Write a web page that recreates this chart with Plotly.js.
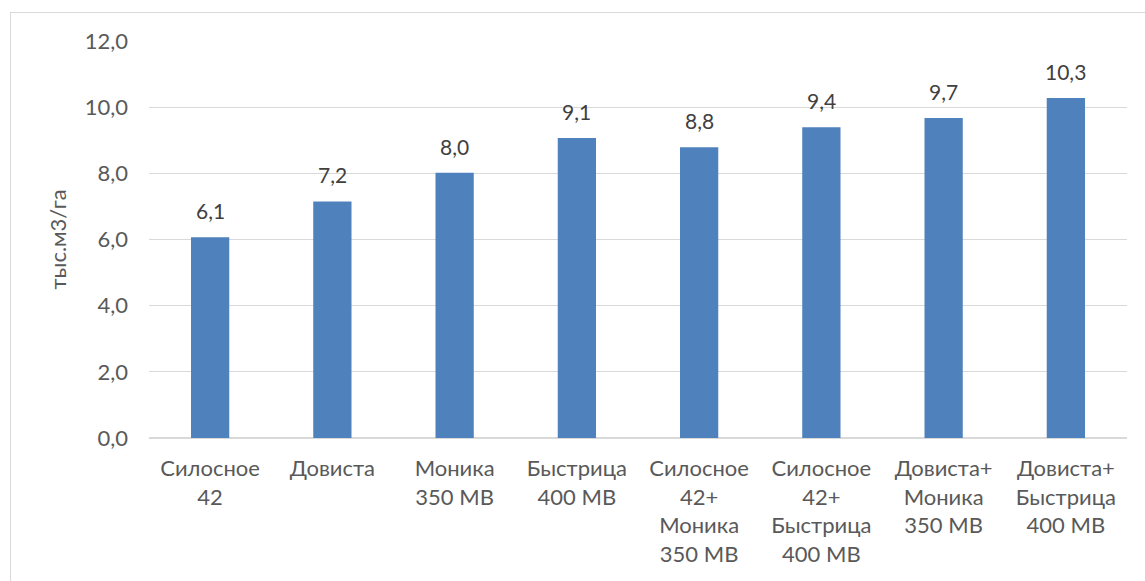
<!DOCTYPE html>
<html><head><meta charset="utf-8">
<script src="https://cdn.plot.ly/plotly-3.0.1.min.js"></script>
<style>
html,body{margin:0;padding:0;background:#fff;overflow:hidden}
#frame{position:absolute;left:10px;top:12px;width:1200px;height:700px;border:1.5px solid #D9D9D9;box-sizing:border-box}
#chart{position:absolute;left:0;top:0;width:1145px;height:581px}
</style></head>
<body>
<div id="frame"></div>
<div id="chart"></div>
<script>
var categories = ["Силосное<br>42", "Довиста", "Моника<br>350 МВ", "Быстрица<br>400 МВ",
  "Силосное<br>42+<br>Моника<br>350 МВ", "Силосное<br>42+<br>Быстрица<br>400 МВ",
  "Довиста+<br>Моника<br>350 МВ", "Довиста+<br>Быстрица<br>400 МВ"];
var values = [6.07, 7.15, 8.02, 9.07, 8.79, 9.39, 9.67, 10.28];
var yTicks = [0, 2, 4, 6, 8, 10, 12];
var yTickText = ["0,0", "2,0", "4,0", "6,0", "8,0", "10,0", "12,0"];
var yTitle = "тыс.м3/га";

var FONT = "Lato, 'Open Sans', sans-serif";
var annotations = values.map(function(v, i){
  return {x: categories[i], y: v, xref: 'x', yref: 'y', text: v.toFixed(1).replace('.', ','),
    showarrow: false, yanchor: 'bottom', yshift: 12, font: {family: FONT, size: 21, color: '#404040'}};
});

var data = [{type: 'bar', x: categories, y: values, marker: {color: '#4F81BD'}, hoverinfo: 'none'}];
var layout = {
  width: 1145, height: 581,
  margin: {l: 149, r: 18, t: 41, b: 143},
  paper_bgcolor: 'rgba(0,0,0,0)', plot_bgcolor: 'rgba(0,0,0,0)',
  bargap: 0.687,
  showlegend: false,
  font: {family: FONT, size: 22, color: '#595959'},
  xaxis: {showgrid: false, zeroline: false, showline: false, ticks: '', tickangle: 0,
    tickfont: {family: FONT, size: 22, color: '#595959'}, ticklabelstandoff: 15},
  yaxis: {range: [0, 12], tickvals: yTicks, ticktext: yTickText, showgrid: true, gridcolor: '#D9D9D9', gridwidth: 1.3,
    zeroline: true, zerolinecolor: '#D9D9D9', zerolinewidth: 1.3, showline: false, ticks: '',
    ticklabelstandoff: 20,
    tickfont: {family: FONT, size: 22, color: '#595959'},
    title: {text: yTitle, standoff: 12, font: {family: FONT, size: 22, color: '#595959'}}},
  annotations: annotations
};
Plotly.newPlot('chart', data, layout, {staticPlot: true, displayModeBar: false});
</script>
</body></html>
